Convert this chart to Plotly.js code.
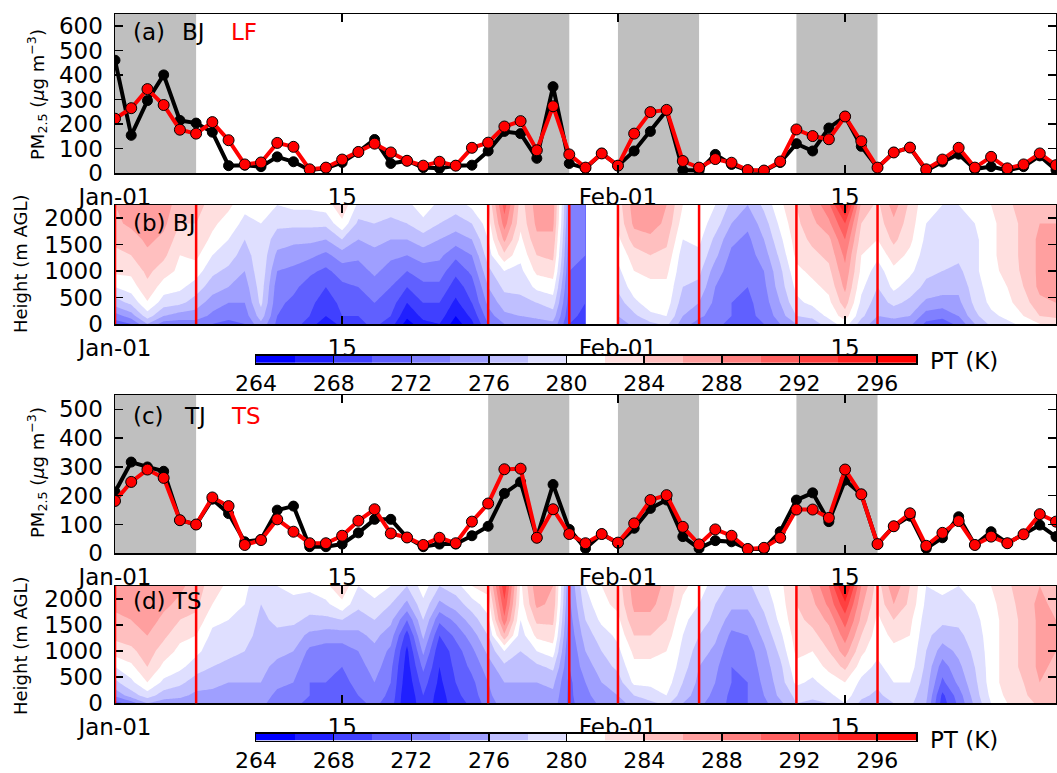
<!DOCTYPE html>
<html><head><meta charset="utf-8">
<script src="https://cdn.plot.ly/plotly-3.0.1.min.js"></script>
<style>html,body{margin:0;padding:0;background:#fff}#chart{width:1057px;height:773px}</style>
</head><body><div id="chart"></div>
<script>
// ---------------- DATA ----------------
const days = [0,1,2,3,4,5,6,7,8,9,10,11,12,13,14,15,16,17,18,19,20,21,22,23,24,25,26,27,28,29,30,31,32,33,34,35,36,37,38,39,40,41,42,43,44,45,46,47,48,49,50,51,52,53,54,55,56,57,58];
const tickDays = [0,14,31,45];
const tickLabels = ['Jan-01','15','Feb-01','15'];

const pmBJ = [461,154,296,401,215,204,167,30,32,26,66,46,12,19,43,86,137,39,50,22,19,30,32,90,170,161,60,353,39,19,80,30,90,170,255,12,10,76,35,10,8,43,120,90,184,231,109,22,84,104,10,45,77,16,26,10,26,70,12];
const pmLF = [222,265,343,278,177,161,208,134,35,43,123,107,15,22,55,86,120,84,50,30,46,30,103,124,190,212,93,273,76,22,80,30,161,249,258,49,22,57,42,12,10,47,178,151,138,231,130,22,84,104,15,55,103,22,66,19,35,80,32];
const pmTJ = [213,317,300,285,115,100,188,138,40,48,150,164,23,23,32,71,118,118,55,23,32,32,61,94,208,248,54,239,83,17,67,35,87,156,185,58,17,44,40,15,15,75,185,210,110,254,205,32,94,129,17,54,127,29,75,35,66,98,58];
const pmTS = [182,248,291,262,115,100,194,164,29,46,118,75,35,35,61,113,153,69,55,29,54,35,110,173,292,294,54,153,67,35,67,37,104,185,202,92,31,83,61,15,19,54,152,152,123,291,205,32,94,139,26,71,112,29,58,35,66,136,110];

// stagnant periods (start day, end day)
const periods = [[0,5],[23,28],[31,36],[42,47]];

// potential temperature profiles (K), one per day, at these heights (m AGL)
const heights = [0,150,400,700,1000,1300,1600,1900,2250];
const ptBJ = [
[271,273,277,280,282.5,283.5,284.5,285.5,286],
[272,275,278.5,281,282.5,284,285,286.5,287],
[276,279,281.8,283.5,284.5,285.5,286.5,287.5,288],
[273,276,279,281,283,284.5,285.5,286.5,287],
[273,275,278.5,280.5,281.5,282,283,284,285],
[273,275,277,279,281,282.5,283.5,284,284.5],
[272,273.5,275,277,278.5,280,281.5,282.5,283.5],
[271.5,272.5,274,276,277.5,279,280,281,282.5],
[272,273,274,275,276,277,278,279.5,280.5],
[275.5,277,278.5,279,279.5,279.5,279.5,280,280.5],
[271.5,272,272.5,273,274,275.5,277,278.5,280],
[270.5,271,271.5,272.5,273.5,275,276.5,278.5,280.5],
[269.5,270,270.5,271,272.5,274.5,276.5,278.5,280.5],
[266,268,269,270,271.5,273.5,276,278.5,281],
[269,270,270.5,271.5,273,275,278,281.5,283.5],
[269.5,270,271,272,273,274.5,276,277.5,279.5],
[270.5,271,272,273,274.5,275.5,276.5,278,279.5],
[269,270,271,272,273,274.5,276,277.5,279],
[265,266.5,268,270,272,274,276,278,279.5],
[267.5,268.5,270,271.5,273,275,277,279.5,281],
[268,269,270,271.5,273,274.5,276,278,279.5],
[265,266,267.5,269,270.5,272.5,275,277,279],
[267.5,268.5,270,271,272.5,274,276,278,280.5],
[272,273,274.5,276,277.5,279,280,281,282],
[274,275.5,277,278.5,280,283.5,286.5,289,291],
[274.5,276,277.5,278.5,279.5,280.5,281.5,282.5,283],
[275,276.5,278,280.5,282.5,284,285.5,286.5,287],
[275.5,277,279,281,283,284.5,285.5,286.5,287],
[270,270.5,271,271.5,272,272.5,273,273.5,274],
[269,269.5,270,270.5,271,272,272.5,273,273.5],
null,
[275,276,277,278.5,279.5,280.5,281.5,282.5,283],
[276.5,277.5,279.5,281,282,283,285,286.5,287],
[277.5,279.5,281,281.5,282.5,284,285.5,287,287.5],
[278.5,280,281,281.5,282.5,283.5,284.5,285.5,286],
[275,276,277,278,278.5,279,280,281,282],
[273,274.5,276,277.5,278.5,279.5,280.5,281,281.5],
[272.5,273,273.5,274,275,276.5,277.5,279,280],
[271.5,272,272,272.5,273,273.5,274.5,276,277.5],
[271,271.5,271.5,272,272.5,273,273.5,274.5,276],
[272,272.5,273,273.5,274,275,276,277,278.5],
[274,275,276,277,277.5,278.5,279.5,280.5,281.5],
[276,278,279.5,280.5,281.5,282.5,283,283.5,284],
[277,278.5,280.5,281.5,282.5,283.5,284.5,285.5,286.5],
[279,280.5,281.5,282.5,283.5,284.5,285.5,287.5,289.5],
[281,283,285,286.5,287.5,288.5,290,292,296.5],
[277,278.5,279.5,280.5,281.5,282,283,284,285.5],
[275,276,277,278,279,280.5,282,283,283.5],
[275,276.5,278.5,280.5,281.5,283,284.5,285.5,287],
[274.5,276,277.5,279,280.5,281.5,282.5,283,283.5],
[271.5,273,275.5,277.5,278.5,279,279.5,280,280.5],
[271,272.5,275,277,278,278.5,279,279.5,280],
[272.5,274,275.5,276.5,277.5,278.5,279,279.5,280],
[276,277.5,278.5,279,279.5,279.5,279.5,280,280.5],
[278.5,279.5,280.5,281,281.5,281.5,281.5,281.5,282],
[279.5,280.5,281.5,282,282.5,283,283,283,283.5],
[280.5,282,283,284,284.5,284.5,284.5,284.5,285],
[282,284,285.5,286.5,286.5,286.5,286.5,286,285.5],
[282.5,284.5,286,286.5,287,287,286.5,286,285.5]
];
const ptTS = [
[271,274.5,277.5,280,283,284.5,285.5,286.5,287],
[273,277,279.5,281.5,283.5,285,286,287,287.5],
[276,279,282,284,285,286,287,287.5,288],
[275,277,279.5,281.5,283,284.5,285.5,286.5,287.5],
[275,276.5,278.5,280.5,281.5,282.5,284,285.5,286.5],
[274.5,275.5,277,279,280.5,282,283.5,284.5,285],
[274.5,275.5,276.5,278,279,279.5,280.5,282,283],
[274.5,275,276,277.5,278.5,279.5,280,280.5,281.5],
[274,275,276,277,278,278.5,279.5,280,280.5],
[274.5,275,276,276.5,277,277.5,277.5,278,278.5],
[273,273.5,274.5,275.5,276.5,277.5,278.5,279,280],
[272.5,273,274,275,276,277,278.5,279.5,280.5],
[271.5,272,272,272.5,273.5,275.5,277.5,279,280.5],
[271,271.5,272,272.5,273,275,277.5,279.5,281.5],
[270,271,271.5,272,273,275,278,281.5,283.5],
[271.5,272,272.5,273,274,275.5,277,278.5,280],
[272.5,273,274,275,275.5,276.5,278,279.5,281],
[271,271.5,272,272.5,273.5,275,276.5,278,280],
[266,266,266.5,267,267.5,269,272,275.5,278],
[269.5,270,271,272.5,274.5,276.5,278,279.5,281],
[267,267,267.5,268,268.5,270,272.5,275.5,278],
[269,269.5,270,270.5,271,272.5,274.5,277,279],
[270.5,271,271.5,272.5,273.5,275,277,279,282],
[273,273.5,274,275,276.5,278,279.5,281,283],
[275,275.5,276,277.5,280,285.5,289.5,291.5,293.5],
[275,275.5,276,277,278,279,280,281,281.5],
[274.5,275,276,277.5,280,282.5,284.5,286.5,287.5],
[275,275.5,276.5,278.5,281,283,284.5,285.5,286],
[271.5,271.5,271.5,272,272,272.5,273,273.5,274],
[273,273.5,274,275,276,277,278,279,280],
[274.5,275,276,277,278,279,280.5,281.5,282],
[275,276,277,278.5,279.5,280.5,281.5,282.5,283],
[277,278,280.5,281.5,282.5,284,285.5,286.5,287],
[277.5,279,280.5,281.5,282.5,284,285.5,286.5,287],
[278.5,280,281,281.5,282,283,284,285,285.5],
[276,277,278,279,279.5,280,280.5,281.5,282.5],
[274.5,275,275.5,276,277,278,279,280,281],
[273,273.5,274,274.5,275.5,276.5,277.5,278,279],
[271.5,271.5,272,272,272.5,273.5,275,276.5,277.5],
[272,272,272,272.5,273,274,275,276.5,277.5],
[273.5,274,274.5,275,275.5,276.5,277.5,278.5,279.5],
[275.5,276.5,277,277.5,278.5,279.5,280.5,281,281.5],
[278,278.5,280.5,281.5,282.5,283,283.5,284,284],
[277.5,278.5,279.5,281,282,283.5,284.5,285.5,286.5],
[278,279.5,281,282.5,284,285,286.5,288.5,290],
[280,281,282,284.5,287,289,291,293.5,297],
[277.5,278.5,279.5,281,282.5,284,285.5,286.5,288],
[276.5,277.5,278.5,279.5,280.5,281,281.5,282.5,283],
[278,279,280,281,281.5,282.5,284,286,287.5],
[278.5,279,280,281,281.5,282,282.5,283.5,284],
[276,276.5,277,277.5,278,278.5,279,279.5,280],
[269,269.5,271.5,273,275,277,278.5,279.5,280.5],
[272.5,273,274.5,275.5,276.5,277.5,278.5,279.5,280],
[276.5,277,277.5,278,278.5,279,279.5,280,280.5],
[280,280.5,281,281,281,281,281,281.5,282],
[282,282.5,283,283,283,283,283,283,283.5],
[283,283.5,284,284.5,284.5,284.5,284.5,285,285.5],
[284.5,285.5,286,286.5,286.5,286.5,286.5,286.5,286],
[284,285,285.5,285.5,286,286,286,285.5,285]
];

const ptLevels = [264,266,268,270,272,274,276,278,280,282,284,286,288,290,292,294,296,298];
const ptTicks = [264,268,272,276,280,284,288,292,296];
const hTicks = [0,500,1000,1500,2000];

// ---------------- STYLE ----------------
const bwr = ['rgb(0,0,255)','rgb(32,32,255)','rgb(64,64,255)','rgb(96,96,255)','rgb(128,128,255)','rgb(159,159,255)','rgb(191,191,255)','rgb(223,223,255)','rgb(255,255,255)','rgb(255,223,223)','rgb(255,191,191)','rgb(255,159,159)','rgb(255,128,128)','rgb(255,96,96)','rgb(255,64,64)','rgb(255,32,32)','rgb(255,0,0)'];
const lvStart = ptLevels[0], lvSize = ptLevels[1]-ptLevels[0], lvEnd = ptLevels[ptLevels.length-1];
const nLev = ptLevels.length; // 18
const cs = [[0,bwr[0]]];
bwr.forEach((c,i)=>cs.push([(i+1)/nLev, c]));
cs.push([1,bwr[bwr.length-1]]);
const cmin = lvStart - lvSize/2, cmax = lvStart + (nLev - 0.5)*lvSize;

const FONT = 'DejaVu Sans, sans-serif';
const W = 1057, H = 773;
const px = X => X / W, py = Y => 1 - Y / H;

function transpose(cols){ return heights.map((h,j)=>cols.map(c=>c[j])); }
function segments(cols){
  const segs=[]; let cur=null;
  cols.forEach((c,i)=>{
    if(c===null){ cur=null; return; }
    if(!cur){ cur={x:[],cols:[]}; segs.push(cur); }
    cur.x.push(days[i]); cur.cols.push(c);
  });
  return segs;
}
function contourTraces(cols, xa, ya){
  return segments(cols).map(s=>({
    type:'contour', x:s.x, y:heights, z:transpose(s.cols), xaxis:xa, yaxis:ya,
    autocontour:false, contours:{start:lvStart,end:lvEnd,size:lvSize,coloring:'fill',showlines:false},
    colorscale:cs, showscale:false, line:{width:0,smoothing:0}, hoverinfo:'skip'
  }));
}
function pmTraces(blk, red, xa, ya){
  return [
    {type:'scatter',mode:'lines+markers',x:days,y:blk,xaxis:xa,yaxis:ya,
     line:{color:'black',width:4},marker:{color:'black',size:10,line:{color:'black',width:1}}},
    {type:'scatter',mode:'lines+markers',x:days,y:red,xaxis:xa,yaxis:ya,
     line:{color:'red',width:4},marker:{color:'red',size:11,line:{color:'black',width:1}}}
  ];
}
const centers = ptLevels.slice(0,-1).map(v=>v+lvSize/2);
function cbTrace(xa, ya){
  return {type:'heatmap', x:centers, y:[0], z:[centers], xaxis:xa, yaxis:ya,
    colorscale:cs, zmin:cmin, zmax:cmax, showscale:false, hoverinfo:'skip'};
}

const data = [
  ...pmTraces(pmBJ, pmLF, 'x', 'y'),
  ...contourTraces(ptBJ, 'x2', 'y2'),
  ...pmTraces(pmTJ, pmTS, 'x3', 'y3'),
  ...contourTraces(ptTS, 'x4', 'y4'),
  cbTrace('x5','y5'),
  cbTrace('x6','y6')
];

const xdom = [px(115), px(1056)];
const tickFont = {family:FONT, size:23, color:'black'};
function xAx(anchor){
  return {domain:xdom, range:[0,58], anchor:anchor, tickvals:tickDays, ticktext:tickLabels,
    ticks:'inside', ticklen:8, tickwidth:1.5, tickcolor:'black', showline:true, mirror:'ticks',
    linecolor:'black', linewidth:1.5, showgrid:false, zeroline:false, tickfont:tickFont, ticklabelstandoff:3};
}
function yAx(dom, anchor, range, vals){
  return {domain:dom, range:range, anchor:anchor, tickvals:vals,
    ticks:'inside', ticklen:8, tickwidth:1.5, tickcolor:'black', showline:true, mirror:'ticks',
    linecolor:'black', linewidth:1.5, showgrid:false, zeroline:false, tickfont:tickFont, ticklabelstandoff:6};
}
function cbX(anchor){
  return {domain:[px(256),px(916)], range:[lvStart,lvEnd], anchor:anchor, tickvals:ptTicks,
    ticks:'inside', ticklen:7, tickwidth:1.5, tickcolor:'black', showline:true, mirror:true,
    linecolor:'black', linewidth:1.5, showgrid:false, zeroline:false, tickfont:{family:FONT,size:22,color:'black'}};
}
function cbY(dom, anchor){
  return {domain:dom, range:[-0.5,0.5], anchor:anchor, showticklabels:false, ticks:'',
    showline:true, mirror:true, linecolor:'black', linewidth:1.5, showgrid:false, zeroline:false};
}

const shapes = [];
periods.forEach(p=>{
  shapes.push({type:'rect',xref:'x',yref:'y domain',x0:p[0],x1:p[1],y0:0,y1:1,fillcolor:'#bfbfbf',line:{width:0},layer:'below'});
  shapes.push({type:'rect',xref:'x3',yref:'y3 domain',x0:p[0],x1:p[1],y0:0,y1:1,fillcolor:'#bfbfbf',line:{width:0},layer:'below'});
  p.forEach(d=>{
    shapes.push({type:'line',xref:'x2',yref:'y2 domain',x0:d,x1:d,y0:0,y1:1,line:{color:'red',width:2.5},layer:'above'});
    shapes.push({type:'line',xref:'x4',yref:'y4 domain',x0:d,x1:d,y0:0,y1:1,line:{color:'red',width:2.5},layer:'above'});
  });
});

function ann(text, X, Y, opts){
  return Object.assign({text:text, xref:'paper', yref:'paper', x:px(X), y:py(Y), showarrow:false,
    xanchor:'left', yanchor:'middle', font:{family:FONT,size:23,color:'black'}}, opts||{});
}
const pmTitle = 'PM<sub>2.5</sub> (<i>μ</i>g m<sup>−3</sup>)';
const annotations = [
  ann('(a)',131,32), ann('BJ',180,32), ann('LF',229,32,{font:{family:FONT,size:23,color:'red'}}),
  ann('(b) BJ',131,223),
  ann('(c)',131,416), ann('TJ',182,416), ann('TS',229,416,{font:{family:FONT,size:23,color:'red'}}),
  ann('(d) TS',131,601),
  ann('PT (K)',928,361), ann('PT (K)',928,740),
  ann(pmTitle,37,95,{xanchor:'center',textangle:-90,font:{family:FONT,size:18,color:'black'}}),
  ann(pmTitle,37,473,{xanchor:'center',textangle:-90,font:{family:FONT,size:18,color:'black'}}),
  ann('Height (m AGL)',20,264,{xanchor:'center',textangle:-90,font:{family:FONT,size:18,color:'black'}}),
  ann('Height (m AGL)',20,646,{xanchor:'center',textangle:-90,font:{family:FONT,size:18,color:'black'}})
];

const layout = {
  width:W, height:H, margin:{l:0,r:0,t:0,b:0}, paper_bgcolor:'white', plot_bgcolor:'white',
  showlegend:false, font:{family:FONT, color:'black'},
  xaxis: xAx('y'), yaxis: yAx([py(173),py(14)],'x',[0,650],[0,100,200,300,400,500,600]),
  xaxis2: xAx('y2'), yaxis2: yAx([py(324),py(205)],'x2',[0,2250],hTicks),
  xaxis3: xAx('y3'), yaxis3: yAx([py(553.3),py(395)],'x3',[0,550],[0,100,200,300,400,500]),
  xaxis4: xAx('y4'), yaxis4: yAx([py(703.3),py(586)],'x4',[0,2250],hTicks),
  xaxis5: cbX('y5'), yaxis5: cbY([py(363),py(355.7)],'x5'),
  xaxis6: cbX('y6'), yaxis6: cbY([py(740.5),py(733.5)],'x6'),
  shapes: shapes, annotations: annotations
};
Plotly.newPlot('chart', data, layout, {displayModeBar:false, staticPlot:true});
</script></body></html>
